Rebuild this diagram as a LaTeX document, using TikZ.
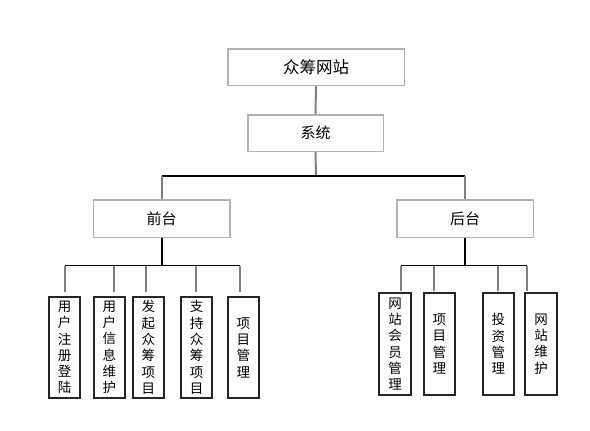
\documentclass[tikz,border=0pt]{standalone}
\usepackage{fontspec}
\setmainfont{Noto Sans CJK SC}
\begin{document}
\begin{tikzpicture}[x=1pt,y=-1pt,
  topbox/.style={draw=black!30,line width=1.5pt,inner sep=0pt,align=center},
  leaf/.style={draw=black!85,line width=2pt,inner sep=0pt,align=center,
    minimum width=31.5pt,font=\fontsize{13.5}{16.3}\selectfont},
  stub/.style={draw=black!50,line width=2pt},
  bar/.style={draw=black,line width=1.3pt},
  trunk/.style={draw=black,line width=2pt}]
\useasboundingbox (0,0) rectangle (590,431);
\fill[white] (0,0) rectangle (590,431);
% top level
\node[topbox,minimum width=176.5pt,minimum height=36.5pt,font=\fontsize{16.5}{19}\selectfont] (site) at (316,67) {众筹网站};
\node[topbox,minimum width=135.5pt,minimum height=36.5pt,font=\fontsize{15}{17}\selectfont] (sys) at (315.5,133) {系统};
\node[topbox,minimum width=136.5pt,minimum height=37.5pt,font=\fontsize{15}{17}\selectfont] (front) at (161.7,218.5) {前台};
\node[topbox,minimum width=136.5pt,minimum height=37.5pt,font=\fontsize{15}{17}\selectfont] (back) at (465,218.5) {后台};
% leaves front
\node[leaf,minimum height=101pt] (f1) at (64.7,347.5) {用\\户\\注\\册\\登\\陆};
\node[leaf,minimum height=101pt] (f2) at (109.3,347.5) {用\\户\\信\\息\\维\\护};
\node[leaf,minimum height=101pt] (f3) at (148.3,347.5) {发\\起\\众\\筹\\项\\目};
\node[leaf,minimum height=101pt] (f4) at (196.5,347.5) {支\\持\\众\\筹\\项\\目};
\node[leaf,minimum height=101pt] (f5) at (243.3,347.5) {项\\目\\管\\理};
% leaves back
\node[leaf,minimum height=102pt] (b1) at (395,344) {网\\站\\会\\员\\管\\理};
\node[leaf,minimum height=102pt] (b2) at (439.3,344) {项\\目\\管\\理};
\node[leaf,minimum height=102pt] (b3) at (498.3,344) {投\\资\\管\\理};
\node[leaf,minimum height=102pt] (b4) at (541,344) {网\\站\\维\\护};
% connector coordinates
\coordinate (sj) at (316,176);
\coordinate (fj) at (161.7,265.7);
\coordinate (bj) at (465,265.7);
\coordinate (fs1) at (65,265.7);
\coordinate (fs2) at (114,265.7);
\coordinate (fs3) at (146,265.7);
\coordinate (fs4) at (195.7,265.7);
\coordinate (fs5) at (240,265.7);
\coordinate (bs1) at (400.7,265.7);
\coordinate (bs2) at (434,265.7);
\coordinate (bs3) at (497.7,265.7);
\coordinate (bs4) at (526.7,265.7);
% connectors
\draw[stub] (site.south) -- (sys.north);
\draw[stub] (sys.south) -- (sj);
\draw[bar] (front.north |- sj) -- (back.north |- sj);
\draw[stub] (front.north |- sj) -- (front.north);
\draw[stub] (back.north |- sj) -- (back.north);
\draw[trunk] (front.south) -- (fj);
\draw[trunk] (back.south) -- (bj);
\draw[bar] (fs1) -- (fs5);
\draw[bar] (bs1) -- (bs4);
\foreach \s/\n in {fs1/f1,fs2/f2,fs3/f3,fs4/f4,fs5/f5}
  \draw[stub] (\s) -- ([yshift=4pt]\s |- \n.north);
\foreach \s/\n in {bs1/b1,bs2/b2,bs3/b3,bs4/b4}
  \draw[stub] (\s) -- ([yshift=1.5pt]\s |- \n.north);
\end{tikzpicture}
\end{document}
